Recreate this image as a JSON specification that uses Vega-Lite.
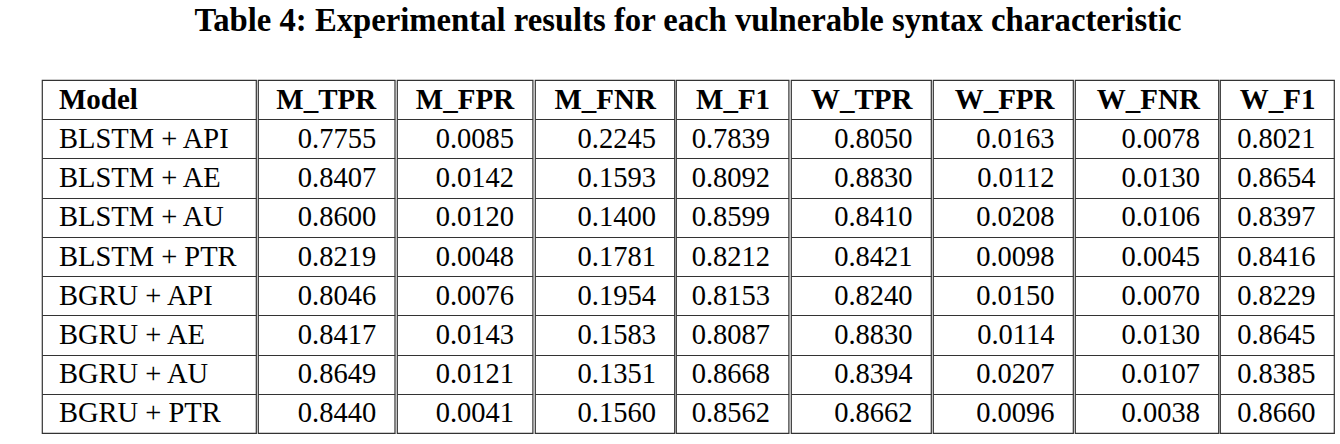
{
  "$schema": "https://vega.github.io/schema/vega-lite/v6.json",
  "autosize": {"type": "pad"},
  "padding": {"left": 41, "top": 4, "right": 0, "bottom": 0},
  "background": "white",
  "title": {"text": "Table 4: Experimental results for each vulnerable syntax characteristic", "font": "Liberation Serif", "fontSize": 32.7, "fontWeight": "bold", "color": "#000", "anchor": "middle", "offset": 42},
  "datasets": {
    "cells": [
      {"Model": "BLSTM + API", "metric": "M_TPR", "value": 0.7755},
      {"Model": "BLSTM + API", "metric": "M_FPR", "value": 0.0085},
      {"Model": "BLSTM + API", "metric": "M_FNR", "value": 0.2245},
      {"Model": "BLSTM + API", "metric": "M_F1", "value": 0.7839},
      {"Model": "BLSTM + API", "metric": "W_TPR", "value": 0.8050},
      {"Model": "BLSTM + API", "metric": "W_FPR", "value": 0.0163},
      {"Model": "BLSTM + API", "metric": "W_FNR", "value": 0.0078},
      {"Model": "BLSTM + API", "metric": "W_F1", "value": 0.8021},
      {"Model": "BLSTM + AE", "metric": "M_TPR", "value": 0.8407},
      {"Model": "BLSTM + AE", "metric": "M_FPR", "value": 0.0142},
      {"Model": "BLSTM + AE", "metric": "M_FNR", "value": 0.1593},
      {"Model": "BLSTM + AE", "metric": "M_F1", "value": 0.8092},
      {"Model": "BLSTM + AE", "metric": "W_TPR", "value": 0.8830},
      {"Model": "BLSTM + AE", "metric": "W_FPR", "value": 0.0112},
      {"Model": "BLSTM + AE", "metric": "W_FNR", "value": 0.0130},
      {"Model": "BLSTM + AE", "metric": "W_F1", "value": 0.8654},
      {"Model": "BLSTM + AU", "metric": "M_TPR", "value": 0.8600},
      {"Model": "BLSTM + AU", "metric": "M_FPR", "value": 0.0120},
      {"Model": "BLSTM + AU", "metric": "M_FNR", "value": 0.1400},
      {"Model": "BLSTM + AU", "metric": "M_F1", "value": 0.8599},
      {"Model": "BLSTM + AU", "metric": "W_TPR", "value": 0.8410},
      {"Model": "BLSTM + AU", "metric": "W_FPR", "value": 0.0208},
      {"Model": "BLSTM + AU", "metric": "W_FNR", "value": 0.0106},
      {"Model": "BLSTM + AU", "metric": "W_F1", "value": 0.8397},
      {"Model": "BLSTM + PTR", "metric": "M_TPR", "value": 0.8219},
      {"Model": "BLSTM + PTR", "metric": "M_FPR", "value": 0.0048},
      {"Model": "BLSTM + PTR", "metric": "M_FNR", "value": 0.1781},
      {"Model": "BLSTM + PTR", "metric": "M_F1", "value": 0.8212},
      {"Model": "BLSTM + PTR", "metric": "W_TPR", "value": 0.8421},
      {"Model": "BLSTM + PTR", "metric": "W_FPR", "value": 0.0098},
      {"Model": "BLSTM + PTR", "metric": "W_FNR", "value": 0.0045},
      {"Model": "BLSTM + PTR", "metric": "W_F1", "value": 0.8416},
      {"Model": "BGRU + API", "metric": "M_TPR", "value": 0.8046},
      {"Model": "BGRU + API", "metric": "M_FPR", "value": 0.0076},
      {"Model": "BGRU + API", "metric": "M_FNR", "value": 0.1954},
      {"Model": "BGRU + API", "metric": "M_F1", "value": 0.8153},
      {"Model": "BGRU + API", "metric": "W_TPR", "value": 0.8240},
      {"Model": "BGRU + API", "metric": "W_FPR", "value": 0.0150},
      {"Model": "BGRU + API", "metric": "W_FNR", "value": 0.0070},
      {"Model": "BGRU + API", "metric": "W_F1", "value": 0.8229},
      {"Model": "BGRU + AE", "metric": "M_TPR", "value": 0.8417},
      {"Model": "BGRU + AE", "metric": "M_FPR", "value": 0.0143},
      {"Model": "BGRU + AE", "metric": "M_FNR", "value": 0.1583},
      {"Model": "BGRU + AE", "metric": "M_F1", "value": 0.8087},
      {"Model": "BGRU + AE", "metric": "W_TPR", "value": 0.8830},
      {"Model": "BGRU + AE", "metric": "W_FPR", "value": 0.0114},
      {"Model": "BGRU + AE", "metric": "W_FNR", "value": 0.0130},
      {"Model": "BGRU + AE", "metric": "W_F1", "value": 0.8645},
      {"Model": "BGRU + AU", "metric": "M_TPR", "value": 0.8649},
      {"Model": "BGRU + AU", "metric": "M_FPR", "value": 0.0121},
      {"Model": "BGRU + AU", "metric": "M_FNR", "value": 0.1351},
      {"Model": "BGRU + AU", "metric": "M_F1", "value": 0.8668},
      {"Model": "BGRU + AU", "metric": "W_TPR", "value": 0.8394},
      {"Model": "BGRU + AU", "metric": "W_FPR", "value": 0.0207},
      {"Model": "BGRU + AU", "metric": "W_FNR", "value": 0.0107},
      {"Model": "BGRU + AU", "metric": "W_F1", "value": 0.8385},
      {"Model": "BGRU + PTR", "metric": "M_TPR", "value": 0.8440},
      {"Model": "BGRU + PTR", "metric": "M_FPR", "value": 0.0041},
      {"Model": "BGRU + PTR", "metric": "M_FNR", "value": 0.1560},
      {"Model": "BGRU + PTR", "metric": "M_F1", "value": 0.8562},
      {"Model": "BGRU + PTR", "metric": "W_TPR", "value": 0.8662},
      {"Model": "BGRU + PTR", "metric": "W_FPR", "value": 0.0096},
      {"Model": "BGRU + PTR", "metric": "W_FNR", "value": 0.0038},
      {"Model": "BGRU + PTR", "metric": "W_F1", "value": 0.8660}
    ],
    "headers": [
      {"col": "Model"}, {"col": "M_TPR"}, {"col": "M_FPR"}, {"col": "M_FNR"}, {"col": "M_F1"},
      {"col": "W_TPR"}, {"col": "W_FPR"}, {"col": "W_FNR"}, {"col": "W_F1"}
    ]
  },
  "spacing": 0,
  "hconcat": [
    {
      "width": 214, "height": 353,
      "encoding": {"y": {"field": "Model", "type": "nominal", "scale": {"domain": ["header", "BLSTM + API", "BLSTM + AE", "BLSTM + AU", "BLSTM + PTR", "BGRU + API", "BGRU + AE", "BGRU + AU", "BGRU + PTR"], "paddingInner": 0, "paddingOuter": 0}, "axis": {"labels": false, "ticks": false, "domain": false, "title": null, "grid": true, "tickBand": "extent", "gridColor": "#333", "gridWidth": 1.2, "gridOpacity": 1, "minExtent": 0, "maxExtent": 0}}},
      "layer": [
        {"data": {"name": "cells"}, "transform": [{"filter": "datum.metric == 'M_TPR'"}], "mark": {"type": "text", "x": 0, "dx": 17, "align": "left", "baseline": "alphabetic", "dy": 9, "font": "Liberation Serif", "fontSize": 28.5, "color": "#000"}, "encoding": {"text": {"field": "Model"}}},
        {"data": {"name": "headers"}, "transform": [{"filter": "datum.col == 'Model'"}], "mark": {"type": "text", "x": 0, "dx": 17, "align": "left", "baseline": "alphabetic", "dy": 9, "font": "Liberation Serif", "fontSize": 29, "fontWeight": "bold", "color": "#000"}, "encoding": {"y": {"datum": "header"}, "text": {"field": "col"}}}
      ]
    },
    {
      "width": 136.7, "height": 353,
      "encoding": {"y": {"field": "Model", "type": "nominal", "scale": {"domain": ["header", "BLSTM + API", "BLSTM + AE", "BLSTM + AU", "BLSTM + PTR", "BGRU + API", "BGRU + AE", "BGRU + AU", "BGRU + PTR"], "paddingInner": 0, "paddingOuter": 0}, "axis": {"labels": false, "ticks": false, "domain": false, "title": null, "grid": true, "tickBand": "extent", "gridColor": "#333", "gridWidth": 1.2, "gridOpacity": 1, "minExtent": 0, "maxExtent": 0}}},
      "layer": [
        {"data": {"name": "cells"}, "transform": [{"filter": "datum.metric == 'M_TPR'"}], "mark": {"type": "text", "x": "width", "dx": -18.5, "align": "right", "baseline": "alphabetic", "dy": 9, "font": "Liberation Serif", "fontSize": 28.5, "color": "#000"}, "encoding": {"text": {"field": "value", "format": ".4f"}}},
        {"data": {"name": "headers"}, "transform": [{"filter": "datum.col == 'M_TPR'"}], "mark": {"type": "text", "x": "width", "dx": -18.5, "align": "right", "baseline": "alphabetic", "dy": 9, "font": "Liberation Serif", "fontSize": 29, "fontWeight": "bold", "color": "#000"}, "encoding": {"y": {"datum": "header"}, "text": {"field": "col"}}}
      ]
    },
    {
      "width": 135.6, "height": 353,
      "encoding": {"y": {"field": "Model", "type": "nominal", "scale": {"domain": ["header", "BLSTM + API", "BLSTM + AE", "BLSTM + AU", "BLSTM + PTR", "BGRU + API", "BGRU + AE", "BGRU + AU", "BGRU + PTR"], "paddingInner": 0, "paddingOuter": 0}, "axis": {"labels": false, "ticks": false, "domain": false, "title": null, "grid": true, "tickBand": "extent", "gridColor": "#333", "gridWidth": 1.2, "gridOpacity": 1, "minExtent": 0, "maxExtent": 0}}},
      "layer": [
        {"data": {"name": "cells"}, "transform": [{"filter": "datum.metric == 'M_FPR'"}], "mark": {"type": "text", "x": "width", "dx": -18.5, "align": "right", "baseline": "alphabetic", "dy": 9, "font": "Liberation Serif", "fontSize": 28.5, "color": "#000"}, "encoding": {"text": {"field": "value", "format": ".4f"}}},
        {"data": {"name": "headers"}, "transform": [{"filter": "datum.col == 'M_FPR'"}], "mark": {"type": "text", "x": "width", "dx": -18.5, "align": "right", "baseline": "alphabetic", "dy": 9, "font": "Liberation Serif", "fontSize": 29, "fontWeight": "bold", "color": "#000"}, "encoding": {"y": {"datum": "header"}, "text": {"field": "col"}}}
      ]
    },
    {
      "width": 139.4, "height": 353,
      "encoding": {"y": {"field": "Model", "type": "nominal", "scale": {"domain": ["header", "BLSTM + API", "BLSTM + AE", "BLSTM + AU", "BLSTM + PTR", "BGRU + API", "BGRU + AE", "BGRU + AU", "BGRU + PTR"], "paddingInner": 0, "paddingOuter": 0}, "axis": {"labels": false, "ticks": false, "domain": false, "title": null, "grid": true, "tickBand": "extent", "gridColor": "#333", "gridWidth": 1.2, "gridOpacity": 1, "minExtent": 0, "maxExtent": 0}}},
      "layer": [
        {"data": {"name": "cells"}, "transform": [{"filter": "datum.metric == 'M_FNR'"}], "mark": {"type": "text", "x": "width", "dx": -18.5, "align": "right", "baseline": "alphabetic", "dy": 9, "font": "Liberation Serif", "fontSize": 28.5, "color": "#000"}, "encoding": {"text": {"field": "value", "format": ".4f"}}},
        {"data": {"name": "headers"}, "transform": [{"filter": "datum.col == 'M_FNR'"}], "mark": {"type": "text", "x": "width", "dx": -18.5, "align": "right", "baseline": "alphabetic", "dy": 9, "font": "Liberation Serif", "fontSize": 29, "fontWeight": "bold", "color": "#000"}, "encoding": {"y": {"datum": "header"}, "text": {"field": "col"}}}
      ]
    },
    {
      "width": 112.6, "height": 353,
      "encoding": {"y": {"field": "Model", "type": "nominal", "scale": {"domain": ["header", "BLSTM + API", "BLSTM + AE", "BLSTM + AU", "BLSTM + PTR", "BGRU + API", "BGRU + AE", "BGRU + AU", "BGRU + PTR"], "paddingInner": 0, "paddingOuter": 0}, "axis": {"labels": false, "ticks": false, "domain": false, "title": null, "grid": true, "tickBand": "extent", "gridColor": "#333", "gridWidth": 1.2, "gridOpacity": 1, "minExtent": 0, "maxExtent": 0}}},
      "layer": [
        {"data": {"name": "cells"}, "transform": [{"filter": "datum.metric == 'M_F1'"}], "mark": {"type": "text", "x": "width", "dx": -18.5, "align": "right", "baseline": "alphabetic", "dy": 9, "font": "Liberation Serif", "fontSize": 28.5, "color": "#000"}, "encoding": {"text": {"field": "value", "format": ".4f"}}},
        {"data": {"name": "headers"}, "transform": [{"filter": "datum.col == 'M_F1'"}], "mark": {"type": "text", "x": "width", "dx": -18.5, "align": "right", "baseline": "alphabetic", "dy": 9, "font": "Liberation Serif", "fontSize": 29, "fontWeight": "bold", "color": "#000"}, "encoding": {"y": {"datum": "header"}, "text": {"field": "col"}}}
      ]
    },
    {
      "width": 140, "height": 353,
      "encoding": {"y": {"field": "Model", "type": "nominal", "scale": {"domain": ["header", "BLSTM + API", "BLSTM + AE", "BLSTM + AU", "BLSTM + PTR", "BGRU + API", "BGRU + AE", "BGRU + AU", "BGRU + PTR"], "paddingInner": 0, "paddingOuter": 0}, "axis": {"labels": false, "ticks": false, "domain": false, "title": null, "grid": true, "tickBand": "extent", "gridColor": "#333", "gridWidth": 1.2, "gridOpacity": 1, "minExtent": 0, "maxExtent": 0}}},
      "layer": [
        {"data": {"name": "cells"}, "transform": [{"filter": "datum.metric == 'W_TPR'"}], "mark": {"type": "text", "x": "width", "dx": -18.5, "align": "right", "baseline": "alphabetic", "dy": 9, "font": "Liberation Serif", "fontSize": 28.5, "color": "#000"}, "encoding": {"text": {"field": "value", "format": ".4f"}}},
        {"data": {"name": "headers"}, "transform": [{"filter": "datum.col == 'W_TPR'"}], "mark": {"type": "text", "x": "width", "dx": -18.5, "align": "right", "baseline": "alphabetic", "dy": 9, "font": "Liberation Serif", "fontSize": 29, "fontWeight": "bold", "color": "#000"}, "encoding": {"y": {"datum": "header"}, "text": {"field": "col"}}}
      ]
    },
    {
      "width": 140, "height": 353,
      "encoding": {"y": {"field": "Model", "type": "nominal", "scale": {"domain": ["header", "BLSTM + API", "BLSTM + AE", "BLSTM + AU", "BLSTM + PTR", "BGRU + API", "BGRU + AE", "BGRU + AU", "BGRU + PTR"], "paddingInner": 0, "paddingOuter": 0}, "axis": {"labels": false, "ticks": false, "domain": false, "title": null, "grid": true, "tickBand": "extent", "gridColor": "#333", "gridWidth": 1.2, "gridOpacity": 1, "minExtent": 0, "maxExtent": 0}}},
      "layer": [
        {"data": {"name": "cells"}, "transform": [{"filter": "datum.metric == 'W_FPR'"}], "mark": {"type": "text", "x": "width", "dx": -18.5, "align": "right", "baseline": "alphabetic", "dy": 9, "font": "Liberation Serif", "fontSize": 28.5, "color": "#000"}, "encoding": {"text": {"field": "value", "format": ".4f"}}},
        {"data": {"name": "headers"}, "transform": [{"filter": "datum.col == 'W_FPR'"}], "mark": {"type": "text", "x": "width", "dx": -18.5, "align": "right", "baseline": "alphabetic", "dy": 9, "font": "Liberation Serif", "fontSize": 29, "fontWeight": "bold", "color": "#000"}, "encoding": {"y": {"datum": "header"}, "text": {"field": "col"}}}
      ]
    },
    {
      "width": 143.4, "height": 353,
      "encoding": {"y": {"field": "Model", "type": "nominal", "scale": {"domain": ["header", "BLSTM + API", "BLSTM + AE", "BLSTM + AU", "BLSTM + PTR", "BGRU + API", "BGRU + AE", "BGRU + AU", "BGRU + PTR"], "paddingInner": 0, "paddingOuter": 0}, "axis": {"labels": false, "ticks": false, "domain": false, "title": null, "grid": true, "tickBand": "extent", "gridColor": "#333", "gridWidth": 1.2, "gridOpacity": 1, "minExtent": 0, "maxExtent": 0}}},
      "layer": [
        {"data": {"name": "cells"}, "transform": [{"filter": "datum.metric == 'W_FNR'"}], "mark": {"type": "text", "x": "width", "dx": -18.5, "align": "right", "baseline": "alphabetic", "dy": 9, "font": "Liberation Serif", "fontSize": 28.5, "color": "#000"}, "encoding": {"text": {"field": "value", "format": ".4f"}}},
        {"data": {"name": "headers"}, "transform": [{"filter": "datum.col == 'W_FNR'"}], "mark": {"type": "text", "x": "width", "dx": -18.5, "align": "right", "baseline": "alphabetic", "dy": 9, "font": "Liberation Serif", "fontSize": 29, "fontWeight": "bold", "color": "#000"}, "encoding": {"y": {"datum": "header"}, "text": {"field": "col"}}}
      ]
    },
    {
      "width": 114, "height": 353,
      "encoding": {"y": {"field": "Model", "type": "nominal", "scale": {"domain": ["header", "BLSTM + API", "BLSTM + AE", "BLSTM + AU", "BLSTM + PTR", "BGRU + API", "BGRU + AE", "BGRU + AU", "BGRU + PTR"], "paddingInner": 0, "paddingOuter": 0}, "axis": {"labels": false, "ticks": false, "domain": false, "title": null, "grid": true, "tickBand": "extent", "gridColor": "#333", "gridWidth": 1.2, "gridOpacity": 1, "minExtent": 0, "maxExtent": 0}}},
      "layer": [
        {"data": {"name": "cells"}, "transform": [{"filter": "datum.metric == 'W_F1'"}], "mark": {"type": "text", "x": "width", "dx": -18.5, "align": "right", "baseline": "alphabetic", "dy": 9, "font": "Liberation Serif", "fontSize": 28.5, "color": "#000"}, "encoding": {"text": {"field": "value", "format": ".4f"}}},
        {"data": {"name": "headers"}, "transform": [{"filter": "datum.col == 'W_F1'"}], "mark": {"type": "text", "x": "width", "dx": -18.5, "align": "right", "baseline": "alphabetic", "dy": 9, "font": "Liberation Serif", "fontSize": 29, "fontWeight": "bold", "color": "#000"}, "encoding": {"y": {"datum": "header"}, "text": {"field": "col"}}}
      ]
    }
  ],
  "config": {"font": "Liberation Serif", "text": {"font": "Liberation Serif"}, "view": {"stroke": "#333", "strokeWidth": 1.2}}
}
